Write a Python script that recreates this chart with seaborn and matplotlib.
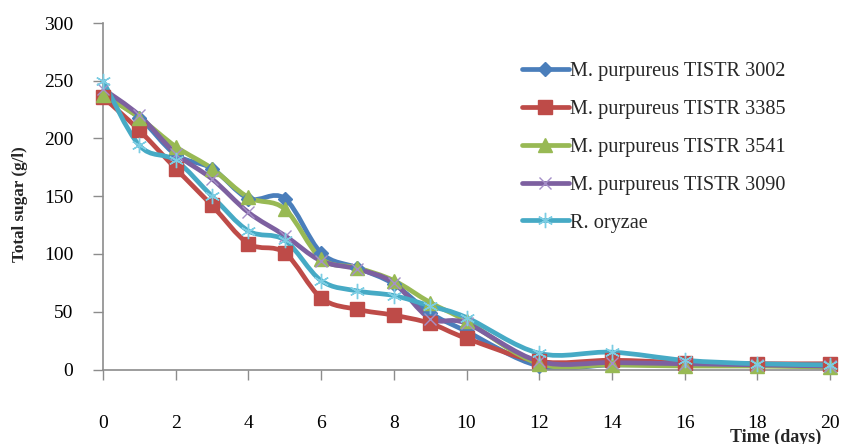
import matplotlib
matplotlib.use("Agg")
import pandas as pd
import seaborn as sns
from matplotlib import pyplot as plt
from matplotlib.path import Path
from matplotlib.patches import PathPatch
from matplotlib.lines import Line2D

# values
days = [0, 1, 2, 3, 4, 5, 6, 7, 8, 9, 10, 12, 14, 16, 18, 20]
tistr_3002 = [238, 218, 186, 174, 148, 148, 101, 88, 74, 49, 33, 3, 4, 4, 4, 3]
tistr_3385 = [236, 207, 174, 142, 109, 101, 62, 52, 47, 40, 27, 7, 8, 6, 5, 5]
tistr_3541 = [238, 218, 193, 174, 149, 139, 96, 88, 77, 58, 42, 5, 4, 3, 3, 2]
tistr_3090 = [243, 220, 187, 165, 136, 116, 94, 87, 75, 44, 40, 7, 6, 5, 4, 3]
r_oryzae = [250, 194, 181, 150, 120, 112, 77, 68, 64, 55, 45, 14, 15, 8, 5, 4]

series_names = ["M. purpureus TISTR 3002", "M. purpureus TISTR 3385",
                "M. purpureus TISTR 3541", "M. purpureus TISTR 3090", "R. oryzae"]
series_values = [tistr_3002, tistr_3385, tistr_3541, tistr_3090, r_oryzae]

# style per series: line colour, marker, marker colour, marker size, marker edge width
styles = {
    "M. purpureus TISTR 3002": ("#4A7EBB", "D", "#4A7EBB", 7.5, 1.0),
    "M. purpureus TISTR 3385": ("#BE4B48", "s", "#BE4B48", 10, 1.0),
    "M. purpureus TISTR 3541": ("#98B954", "^", "#98B954", 10, 1.0),
    "M. purpureus TISTR 3090": ("#7D60A0", "x", "#A58FC8", 9, 1.0),
    "R. oryzae": ("#46AAC5", (6, 2, 0), "#7CCDE3", 11, 1.0),
}

df = pd.DataFrame({"day": days * len(series_names),
                   "sugar": sum(series_values, []),
                   "strain": [n for n in series_names for _ in days]})


def smooth_path(xs, ys):
    """Excel-like smoothed line: cubic bezier segments (catmull-rom, tension 1/6)"""
    pts = list(zip(xs, ys))
    verts = [pts[0]]
    codes = [Path.MOVETO]
    n = len(pts)
    for i in range(n - 1):
        p0 = pts[i - 1] if i > 0 else pts[i]
        p1, p2 = pts[i], pts[i + 1]
        p3 = pts[i + 2] if i + 2 < n else pts[i + 1]
        c1 = (p1[0] + (p2[0] - p0[0]) / 6, p1[1] + (p2[1] - p0[1]) / 6)
        c2 = (p2[0] - (p3[0] - p1[0]) / 6, p2[1] - (p3[1] - p1[1]) / 6)
        verts += [c1, c2, p2]
        codes += [Path.CURVE4] * 3
    return Path(verts, codes)


sns.set_theme(style="white")
plt.rcParams["font.family"] = ["Liberation Serif", "DejaVu Serif"]

fig = plt.figure(figsize=(8.42, 4.44), dpi=100)
ax = fig.add_axes([103 / 842, 1 - 369.5 / 444, 727 / 842, 346.5 / 444])

handles = []
for name in series_names:
    color, marker, mcolor, ms, mew = styles[name]
    sub = df[df["strain"] == name]
    ax.add_patch(PathPatch(smooth_path(sub["day"].tolist(), sub["sugar"].tolist()),
                           fill=False, edgecolor=color, lw=3.4, zorder=2,
                           capstyle="round", joinstyle="round"))
    sns.lineplot(data=sub, x="day", y="sugar", ax=ax, linestyle="none",
                 marker=marker, markersize=ms, color=mcolor,
                 markerfacecolor=mcolor, markeredgecolor=mcolor,
                 markeredgewidth=mew, zorder=3, clip_on=False, legend=False)
    handles.append(Line2D([], [], color=color, lw=3.4, marker=marker,
                          markersize=ms, markerfacecolor=mcolor,
                          markeredgecolor=mcolor, markeredgewidth=mew))

ax.set_xlim(0, 20)
ax.set_ylim(0, 300)
ax.set_xticks(range(0, 21, 2))
ax.set_yticks(range(0, 301, 50))
ax.set_xlabel("")
ax.set_ylabel("")

for side in ["top", "right"]:
    ax.spines[side].set_visible(False)
for side in ["left", "bottom"]:
    ax.spines[side].set_color("#8C8C8C")
    ax.spines[side].set_linewidth(1.2)

ax.tick_params(axis="both", which="major", direction="out", length=7.5,
               width=1.0, color="#8C8C8C", labelsize=14, labelcolor="black",
               left=True, bottom=True)
ax.tick_params(axis="x", pad=25)
ax.tick_params(axis="y", pad=14)

leg = fig.legend(handles, series_names, loc="upper left",
                 bbox_to_anchor=(522 / 842, 1 - 62 / 444),
                 frameon=False, fontsize=14.6, handlelength=2.3,
                 handletextpad=0.05, labelspacing=0.92, borderpad=0,
                 borderaxespad=0)

fig.text(20 / 842, 1 - 204 / 444, "Total sugar (g/l)", rotation=90,
         ha="center", va="center", fontsize=12.3, fontweight="bold")
fig.text(776 / 842, 1 - 437 / 444, "Time (days)", ha="center", va="center",
         fontsize=13, fontweight="bold")

fig.savefig("out.png", dpi=100)
plt.close(fig)
